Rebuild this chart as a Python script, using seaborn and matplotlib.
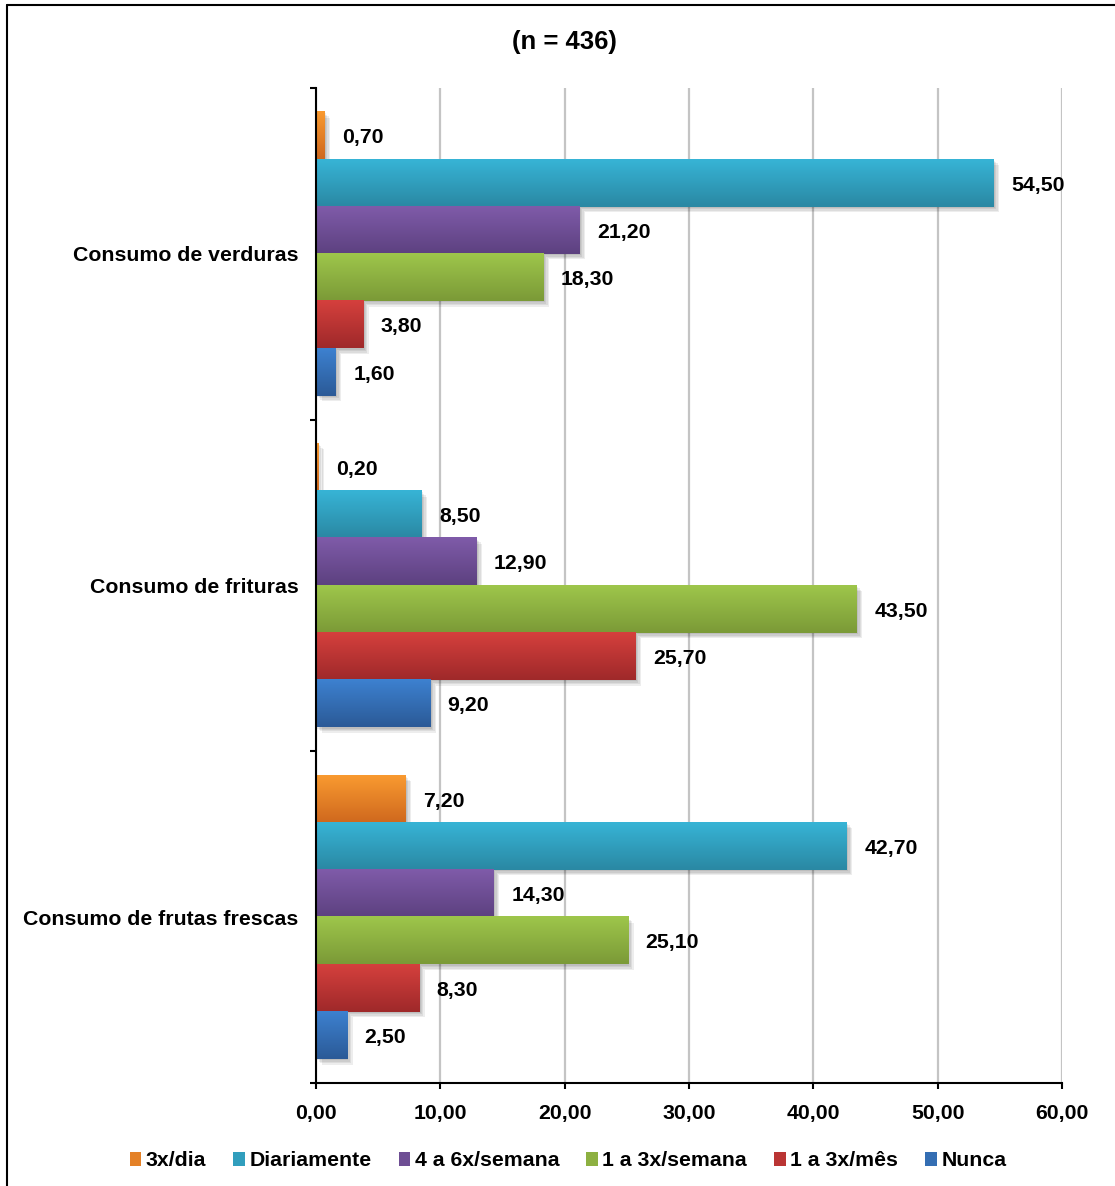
import numpy as np
import pandas as pd
import seaborn as sns
import matplotlib.pyplot as plt
from matplotlib import patheffects as pe
from matplotlib.colors import to_rgb
from matplotlib.lines import Line2D
from matplotlib.patches import Patch

# ---- data -------------------------------------------------------------
categorias = ["Consumo de verduras", "Consumo de frituras", "Consumo de frutas frescas"]
frequencias = ["3x/dia", "Diariamente", "4 a 6x/semana", "1 a 3x/semana", "1 a 3x/mês", "Nunca"]
verduras = [0.70, 54.50, 21.20, 18.30, 3.80, 1.60]
frituras = [0.20, 8.50, 12.90, 43.50, 25.70, 9.20]
frutas_frescas = [7.20, 42.70, 14.30, 25.10, 8.30, 2.50]
x_ticks = [0, 10, 20, 30, 40, 50, 60]
titulo = "(n = 436)"

# gradient colours per frequency (top -> bottom of each bar)
cores_topo = ["#F99A30", "#37B4D6", "#7F5BA9", "#9EC64B", "#D5403D", "#3D81D0"]
cores_base = ["#CF681E", "#2A88A3", "#5D4180", "#7B9A37", "#9F292A", "#2B5A97"]
cores_meio = [tuple((np.array(to_rgb(a)) + np.array(to_rgb(b))) / 2)
              for a, b in zip(cores_topo, cores_base)]

df = pd.DataFrame({
    "categoria": np.repeat(categorias, len(frequencias)),
    "frequencia": frequencias * len(categorias),
    "valor": verduras + frituras + frutas_frescas,
})

# ---- style ------------------------------------------------------------
sns.set_theme(style="white")
plt.rcParams["font.family"] = ["Liberation Sans", "DejaVu Sans"]
plt.rcParams["font.weight"] = "bold"
for key in ("text.color", "axes.labelcolor", "xtick.color", "ytick.color"):
    plt.rcParams[key] = "black"
FS = 15.3

fig = plt.figure(figsize=(11.15, 11.86), dpi=100)
ax = fig.add_axes([316 / 1115, 1 - 1083 / 1186, (1062 - 316) / 1115, (1083 - 88) / 1186])

sns.barplot(data=df, y="categoria", x="valor", hue="frequencia",
            order=categorias, hue_order=frequencias, palette=cores_meio,
            orient="h", width=0.855, dodge=True, errorbar=None,
            saturation=1, linewidth=0, legend=False, ax=ax)

ax.set_xlim(0, 60)
ax.set_ylim(2.5, -0.5)

# soft drop shadow built from a few faint offset copies
sombra = [pe.SimplePatchShadow(offset=(k, -k), shadow_rgbFace="#000000", alpha=0.07)
          for k in (1.0, 2.0, 3.0, 4.0)]

# gradient fill and shadow on every bar, value label at its end
for i, cont in enumerate(ax.containers):
    topo = np.array(to_rgb(cores_topo[i]))
    base = np.array(to_rgb(cores_base[i]))
    g = np.linspace(0, 1, 64)[:, None, None]
    img = topo * (1 - g) + base * g
    for bar in cont:
        bar.set_path_effects(sombra + [pe.Normal()])
        x0, w = bar.get_x(), bar.get_width()
        y0, h = bar.get_y(), bar.get_height()
        if w <= 0:
            continue
        ax.imshow(img, extent=(x0, x0 + w, y0 + h, y0), origin="upper",
                  aspect="auto", interpolation="bilinear",
                  zorder=bar.get_zorder() + 0.1)
    rotulos = ax.bar_label(cont, labels=[f"{v:.2f}".replace(".", ",") for v in cont.datavalues],
                           padding=12.5, fontsize=FS, fontweight="bold", color="black")
    for t in rotulos:
        x, y = t.xyann
        t.xyann = (x, y - 1.5)

ax.set_xlim(0, 60)
ax.set_ylim(2.5, -0.5)

# axes, ticks, grid
ax.set_xlabel("")
ax.set_ylabel("")
ax.set_xticks(x_ticks)
ax.set_xticklabels([f"{t:.2f}".replace(".", ",") for t in x_ticks],
                   fontsize=FS, fontweight="bold")
ax.set_yticks(range(len(categorias)))
ax.set_yticklabels(categorias, fontsize=FS, fontweight="bold")
ax.set_yticks([-0.5, 0.5, 1.5, 2.5], minor=True)

ax.tick_params(axis="x", which="major", direction="out", length=4, width=1.5,
               color="black", pad=11, bottom=True)
ax.tick_params(axis="y", which="major", length=0, pad=12.5)
ax.tick_params(axis="y", which="minor", direction="out", length=4, width=1.5,
               color="black", left=True)

for side in ("top", "right"):
    ax.spines[side].set_visible(False)
for side in ("left", "bottom"):
    ax.spines[side].set_color("black")
    ax.spines[side].set_linewidth(1.5)
    ax.spines[side].set_zorder(5)

ax.set_axisbelow(True)
ax.xaxis.grid(True, color="#C4C4C4", linewidth=1.6)
ax.yaxis.grid(False)

# title
fig.text(564 / 1115, 1 - 42 / 1186, titulo, ha="center", va="center",
         fontsize=18.5, fontweight="bold")

# legend
handles = [Patch(facecolor=c, edgecolor="none") for c in cores_meio]
fig.legend(handles, frequencias, loc="center",
           bbox_to_anchor=(568 / 1115, 1 - 1161 / 1186), ncol=6, frameon=False,
           handlelength=0.55, handleheight=0.6, handletextpad=0.2,
           columnspacing=1.28, prop={"size": FS, "weight": "bold"})

# outer frame (top and left edges)
fig.add_artist(Line2D([7 / 1115, 1], [1 - 5 / 1186] * 2, transform=fig.transFigure,
                      color="black", linewidth=1.5))
fig.add_artist(Line2D([7 / 1115] * 2, [0, 1 - 5 / 1186], transform=fig.transFigure,
                      color="black", linewidth=1.5))

fig.savefig("out.png", dpi=100)
